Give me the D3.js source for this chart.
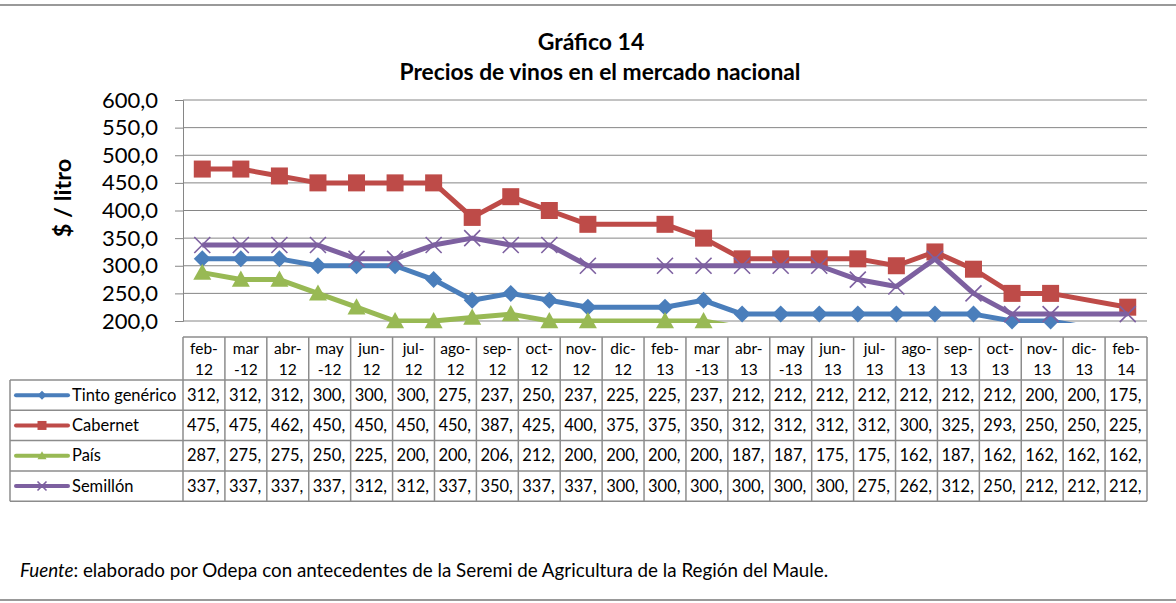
<!DOCTYPE html>
<head>
  <meta charset="utf-8">
  <script src="https://d3js.org/d3.v7.min.js"></script>
  <style>
    body { margin:0; background:#fff; }
    text { font-family: Lato, "Open Sans", sans-serif; fill:#000; }
  </style>
</head>
<body>
<script>
  // months of the data (date axis: jan-13 and jan-14 are missing)
  var months = ["2012-02","2012-03","2012-04","2012-05","2012-06","2012-07","2012-08","2012-09",
                "2012-10","2012-11","2012-12","2013-02","2013-03","2013-04","2013-05","2013-06",
                "2013-07","2013-08","2013-09","2013-10","2013-11","2013-12","2014-02"];
  // column headers of the data table (| = line break)
  var colLabels = ["feb-|12","mar|-12","abr-|12","may|-12","jun-|12","jul-|12","ago-|12","sep-|12",
                   "oct-|12","nov-|12","dic-|12","feb-|13","mar|-13","abr-|13","may|-13","jun-|13",
                   "jul-|13","ago-|13","sep-|13","oct-|13","nov-|13","dic-|13","feb-|14"];
  var yTicks = [200,250,300,350,400,450,500,550,600];

  var tinto    = [312.5,312.5,312.5,300,300,300,275,237.5,250,237.5,225,225,237.5,212.5,212.5,212.5,212.5,212.5,212.5,212.5,200,200,175];
  var cabernet = [475,475,462.5,450,450,450,450,387.5,425,400,375,375,350,312.5,312.5,312.5,312.5,300,325,293.75,250,250,225];
  var pais     = [287.5,275,275,250,225,200,200,206.25,212.5,200,200,200,200,187.5,187.5,175,175,162.5,187.5,162.5,162.5,162.5,162.5];
  var semillon = [337.5,337.5,337.5,337.5,312.5,312.5,337.5,350,337.5,337.5,300,300,300,300,300,300,275,262.5,312.5,250,212.5,212.5,212.5];

  var series = [
    {name:"Tinto genérico", values:tinto,    color:"#4A7EBB", marker:"diamond"},
    {name:"Cabernet",       values:cabernet, color:"#BE4B48", marker:"square"},
    {name:"País",           values:pais,     color:"#98B954", marker:"triangle"},
    {name:"Semillón",       values:semillon, color:"#7D60A0", marker:"x"}
  ];

  var W = 1176, H = 603;
  var pLeft = 183, pRight = 1147, pTop = 100, pBottom = 321;

  var svg = d3.select("body").append("svg").attr("width", W).attr("height", H);

  // frame lines
  svg.append("line").attr("x1",0).attr("x2",W).attr("y1",5).attr("y2",5).attr("stroke","#999").attr("stroke-width",2);
  svg.append("line").attr("x1",0).attr("x2",W).attr("y1",600).attr("y2",600).attr("stroke","#999").attr("stroke-width",2);

  var parse = d3.timeParse("%Y-%m");
  var start = parse("2012-02");
  var x = d3.scaleLinear().domain([0, 25]).range([pLeft, pRight]);
  function xm(i) { return x(d3.timeMonth.count(start, parse(months[i])) + 0.5); }
  var y = d3.scaleLinear().domain([200, 600]).range([pBottom, pTop]);

  // title
  svg.append("text").attr("x",591).attr("y",50).attr("text-anchor","middle")
    .style("font-weight","bold").style("font-size","23px").text("Gráfico 14");
  svg.append("text").attr("x",600).attr("y",80).attr("text-anchor","middle")
    .style("font-weight","bold").style("font-size","22.8px").text("Precios de vinos en el mercado nacional");

  // y axis title
  svg.append("text").attr("transform","translate(71,198) rotate(-90)").attr("text-anchor","middle")
    .style("font-weight","bold").style("font-size","23.5px").text("$ / litro");

  // gridlines + y axis
  var yAxis = d3.axisLeft(y).tickValues(yTicks).tickSize(8).tickPadding(17)
    .tickFormat(function(d){ return d3.format(".1f")(d).replace(".", ","); });
  var ga = svg.append("g").attr("transform","translate(" + pLeft + ",0)").call(yAxis);
  ga.select(".domain").attr("stroke","#868686");
  ga.selectAll(".tick line").attr("stroke","#868686");
  ga.selectAll(".tick text").style("font-size","22px").style("font-family","Lato, sans-serif").attr("fill","#000");
  svg.append("g").selectAll("line").data(yTicks).join("line")
    .attr("x1",pLeft).attr("x2",pRight).attr("y1",function(d){return y(d);}).attr("y2",function(d){return y(d);})
    .attr("stroke","#868686").attr("stroke-width",1);

  // clip lines to plot area (slightly below the axis)
  svg.append("clipPath").attr("id","plotclip").append("rect")
    .attr("x",pLeft).attr("y",pTop - 10).attr("width",pRight-pLeft).attr("height",pBottom - pTop + 12);

  var line = d3.line().x(function(d,i){return xm(i);}).y(function(d){return y(d);});

  function marker(g, type, color, s) {
    if (type == "diamond") {
      g.append("path").attr("d","M0,"+(-s)+"L"+s+",0L0,"+s+"L"+(-s)+",0Z").attr("fill",color);
    } else if (type == "square") {
      g.append("rect").attr("x",-s).attr("y",-s).attr("width",2*s).attr("height",2*s).attr("fill",color);
    } else if (type == "triangle") {
      g.append("path").attr("d","M0,"+(-s)+"L"+s+","+(s*0.8)+"L"+(-s)+","+(s*0.8)+"Z").attr("fill",color);
    } else {
      g.append("path").attr("d","M"+(-s)+","+(-s)+"L"+s+","+s+"M"+s+","+(-s)+"L"+(-s)+","+s)
        .attr("stroke",color).attr("stroke-width",1.6).attr("fill","none");
    }
  }

  var sizes = {diamond:8.5, square:8.5, triangle:9, x:8};

  series.forEach(function(s) {
    svg.append("path").attr("d", line(s.values)).attr("fill","none")
      .attr("stroke", s.color).attr("stroke-width",5).attr("stroke-linejoin","round")
      .attr("clip-path","url(#plotclip)");
    s.values.forEach(function(v, i) {
      if (v < 200) return;
      var g = svg.append("g").attr("transform","translate(" + xm(i) + "," + y(v) + ")");
      marker(g, s.marker, s.color, sizes[s.marker]);
    });
  });

  // data table
  var tTop = 337, hdrH = 43, rowH = 30.3, tLeft = 10;
  var colW = (pRight - pLeft) / colLabels.length;
  var tg = svg.append("g");
  var bc = "#8c8c8c";

  colLabels.forEach(function(lab, i) {
    var cx = pLeft + colW * (i + 0.5);
    var parts = lab.split("|");
    tg.append("text").attr("x",cx).attr("y",tTop+17).attr("text-anchor","middle").style("font-size","15.5px").text(parts[0]);
    tg.append("text").attr("x",cx).attr("y",tTop+38).attr("text-anchor","middle").style("font-size","15.5px").text(parts[1]);
  });

  var rowsTop = tTop + hdrH;
  series.forEach(function(s, r) {
    var ry = rowsTop + rowH * r;
    var cy = ry + rowH / 2;
    tg.append("line").attr("x1",16).attr("x2",68).attr("y1",cy).attr("y2",cy)
      .attr("stroke",s.color).attr("stroke-width",4).attr("stroke-linecap","round");
    var g = tg.append("g").attr("transform","translate(42," + cy + ")");
    marker(g, s.marker, s.color, 4.5);
    tg.append("text").attr("x",72).attr("y",cy+5.5).style("font-size","16.5px").text(s.name);
    s.values.forEach(function(v, i) {
      tg.append("text").attr("x", pLeft + colW * i + 4).attr("y", cy + 5.5).style("font-size","16.5px")
        .text(Math.floor(v) + ",");
    });
  });

  // table borders
  var tBottom = rowsTop + rowH * series.length;
  d3.range(colLabels.length + 1).forEach(function(i) {
    tg.append("line").attr("x1",pLeft + colW*i).attr("x2",pLeft + colW*i).attr("y1",tTop).attr("y2",tBottom)
      .attr("stroke",bc).attr("stroke-width",1.5);
  });
  tg.append("line").attr("x1",pLeft).attr("x2",pRight).attr("y1",tTop).attr("y2",tTop).attr("stroke",bc).attr("stroke-width",1.5);
  d3.range(series.length + 1).forEach(function(r) {
    var yy = rowsTop + rowH * r;
    tg.append("line").attr("x1",tLeft).attr("x2",pRight).attr("y1",yy).attr("y2",yy).attr("stroke",bc).attr("stroke-width",1.5);
  });
  tg.append("line").attr("x1",tLeft).attr("x2",tLeft).attr("y1",rowsTop).attr("y2",tBottom).attr("stroke",bc).attr("stroke-width",1.5);

  // source note
  var note = svg.append("text").attr("x",20).attr("y",577).style("font-size","18.8px");
  note.append("tspan").style("font-style","italic").text("Fuente");
  note.append("tspan").text(": elaborado por Odepa con antecedentes de la Seremi de Agricultura de la Región del Maule.");
</script>
</body>
